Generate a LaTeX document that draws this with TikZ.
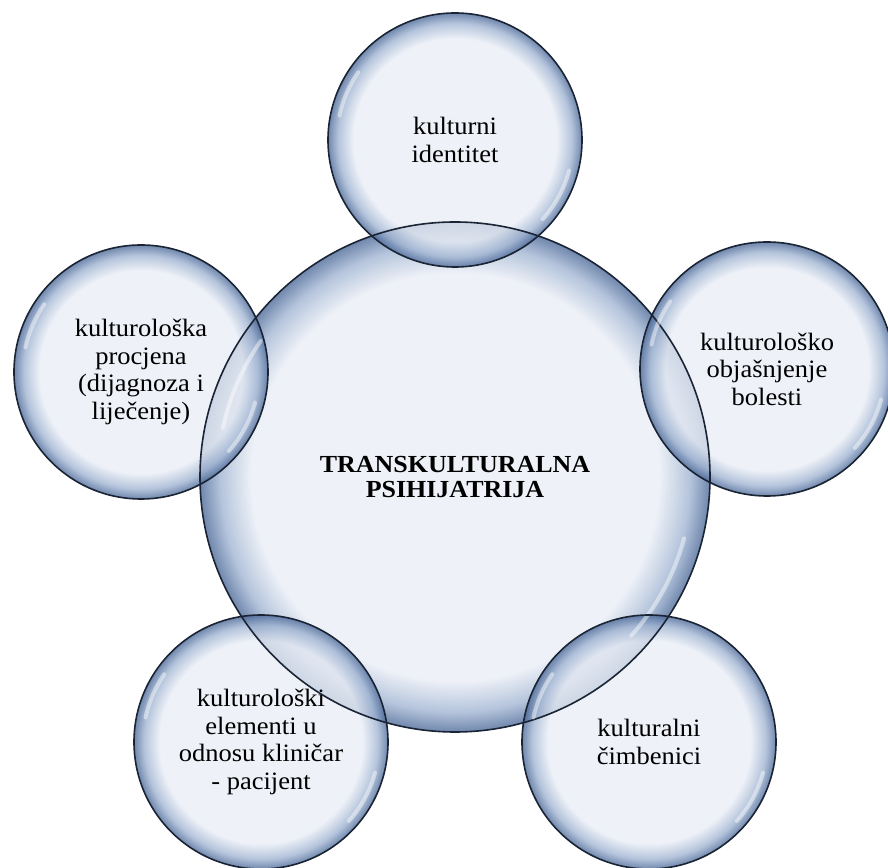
\documentclass[tikz,border=0pt]{standalone}
\usepackage{fontspec}
\setmainfont{Liberation Serif}[FakeStretch=1.06]
\usetikzlibrary{calc}
\definecolor{bubin}{RGB}{233,237,245}
\definecolor{bubmid}{RGB}{160,180,210}
\definecolor{bubout}{RGB}{72,102,150}
\definecolor{rimline}{RGB}{26,36,52}
\pgfdeclareradialshading{bubble}{\pgfpoint{0bp}{0bp}}{color(0bp)=(bubin); color(20bp)=(bubin); color(23bp)=(bubmid); color(25bp)=(bubout); color(50bp)=(bubout)}
\tikzset{
  bubblebase/.style={circle, inner sep=0pt, outer sep=0pt, shading=bubble, fill opacity=0.78, text opacity=1, align=center, text=black},
  bigbubble/.style={bubblebase, minimum size=510pt, font=\fontsize{24.5}{25}\selectfont\bfseries},
  smallbubble/.style={bubblebase, minimum size=254pt, font=\fontsize{25}{27.5}\selectfont},
  rim/.style={draw=rimline, line width=1.6pt},
  hl/.style={draw=white, line width=4pt, line cap=round, opacity=0.45},
}
\begin{document}
\begin{tikzpicture}[x=1pt,y=1pt]
\useasboundingbox (0,0) rectangle (888,867);
\node[bigbubble] (c) at (455,390) {TRANSKULTURALNA\\PSIHIJATRIJA};
\node[smallbubble] (t) at (455,727) {kulturni\\identitet};
\node[smallbubble] (r) at (767,498) {kulturološko\\objašnjenje\\bolesti};
\node[smallbubble] (br) at (649,125) {kulturalni\\čimbenici};
\node[smallbubble] (bl) at (261,125) {kulturološki\\elementi u\\odnosu kliničar\\- pacijent};
\node[smallbubble] (l) at (141,495) {kulturološka\\procjena\\(dijagnoza i\\liječenje)};
\foreach \n/\rr in {c/255,t/127,r/127,br/127,bl/127,l/127}{
  \draw[hl] (\n.center) ++(145:{0.93*\rr}) arc[start angle=145, end angle=168, radius={0.93*\rr}];
  \draw[hl] (\n.center) ++(-15:{0.93*\rr}) arc[start angle=-15, end angle=-42, radius={0.93*\rr}];
  \draw[rim] (\n.center) circle[radius=\rr];
}
\end{tikzpicture}
\end{document}
